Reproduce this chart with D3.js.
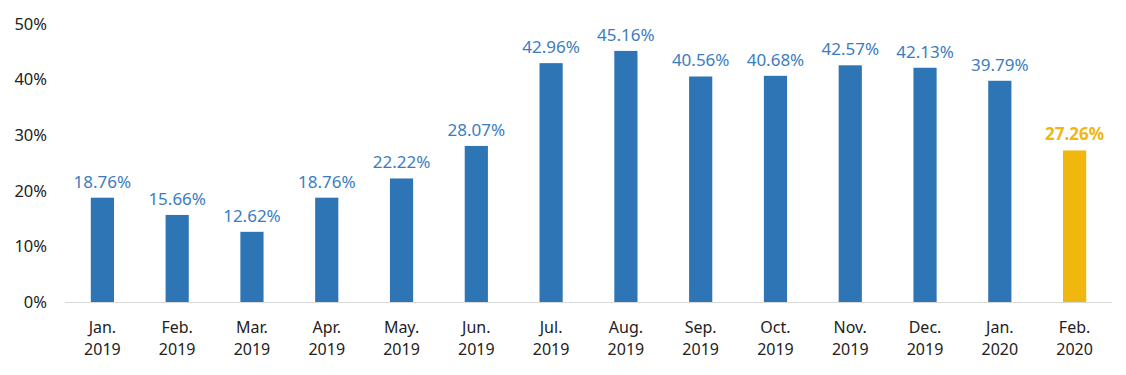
<!DOCTYPE html>
<html>
<head>
<meta charset="utf-8">
<script src="https://cdn.jsdelivr.net/npm/d3@7"></script>
<style>
	body { margin: 0; background: #fff; }
	text { font-family: "Noto Sans", "Open Sans", sans-serif; }
</style>
</head>
<body>
<div id="chart"></div>
<script>
// Chart data
const MONTHS = ["Jan.", "Feb.", "Mar.", "Apr.", "May.", "Jun.", "Jul.", "Aug.", "Sep.", "Oct.", "Nov.", "Dec.", "Jan.", "Feb."];
const YEARS = ["2019", "2019", "2019", "2019", "2019", "2019", "2019", "2019", "2019", "2019", "2019", "2019", "2020", "2020"];
const VALUES = [18.76, 15.66, 12.62, 18.76, 22.22, 28.07, 42.96, 45.16, 40.56, 40.68, 42.57, 42.13, 39.79, 27.26];
const HIGHLIGHT = [false, false, false, false, false, false, false, false, false, false, false, false, false, true];
const Y_TICKS = [0, 10, 20, 30, 40, 50];

const BLUE = "#2e75b6";
const LABEL_BLUE = "#3a7dbf";
const YELLOW = "#f0b70f";

var width = 1126;
var height = 375;
var margin = { top: 24, right: 14, bottom: 73, left: 65 };

var svg = d3.select("#chart").append("svg")
	.attr("width", width)
	.attr("height", height);

var idx = d3.range(VALUES.length);

// Scales
var x = d3.scaleBand()
	.domain(idx)
	.range([margin.left, width - margin.right])
	.paddingInner(0.69)
	.paddingOuter(0.345);

var y = d3.scaleLinear()
	.domain([0, 50])
	.range([height - margin.bottom, margin.top]);

// Y axis labels only
var yAxis = d3.axisLeft(y)
	.tickValues(Y_TICKS)
	.tickFormat(d => d + "%")
	.tickSize(0)
	.tickPadding(0);

svg.append("g")
	.attr("transform", "translate(47,0)")
	.call(yAxis)
	.call(g => g.select(".domain").remove())
	.selectAll("text")
	.attr("font-size", "16.5px")
	.attr("fill", "#222");

// Bars
svg.append("g").selectAll("rect")
	.data(idx)
	.join("rect")
	.attr("x", i => x(i))
	.attr("width", x.bandwidth())
	.attr("y", i => y(VALUES[i]))
	.attr("height", i => y(0) - y(VALUES[i]))
	.attr("fill", i => HIGHLIGHT[i] ? YELLOW : BLUE);

// Baseline
svg.append("line")
	.attr("x1", margin.left)
	.attr("x2", width - margin.right)
	.attr("y1", y(0) + 0.5)
	.attr("y2", y(0) + 0.5)
	.attr("stroke", "#d9d9d9")
	.attr("stroke-width", 1);

// Value labels
svg.append("g").selectAll("text")
	.data(idx)
	.join("text")
	.attr("x", i => x(i) + x.bandwidth() / 2)
	.attr("y", i => y(VALUES[i]) - 10)
	.attr("text-anchor", "middle")
	.attr("font-size", "17px")
	.attr("font-weight", i => HIGHLIGHT[i] ? "bold" : "normal")
	.attr("fill", i => HIGHLIGHT[i] ? YELLOW : LABEL_BLUE)
	.text(i => VALUES[i].toFixed(2) + "%");

// Category labels (two lines)
var cats = svg.append("g").selectAll("text")
	.data(idx)
	.join("text")
	.attr("text-anchor", "middle")
	.attr("font-size", "16px")
	.attr("fill", "#222");

cats.append("tspan")
	.attr("x", i => x(i) + x.bandwidth() / 2)
	.attr("y", 333)
	.text(i => MONTHS[i]);

cats.append("tspan")
	.attr("x", i => x(i) + x.bandwidth() / 2)
	.attr("y", 355)
	.text(i => YEARS[i]);
</script>
</body>
</html>
